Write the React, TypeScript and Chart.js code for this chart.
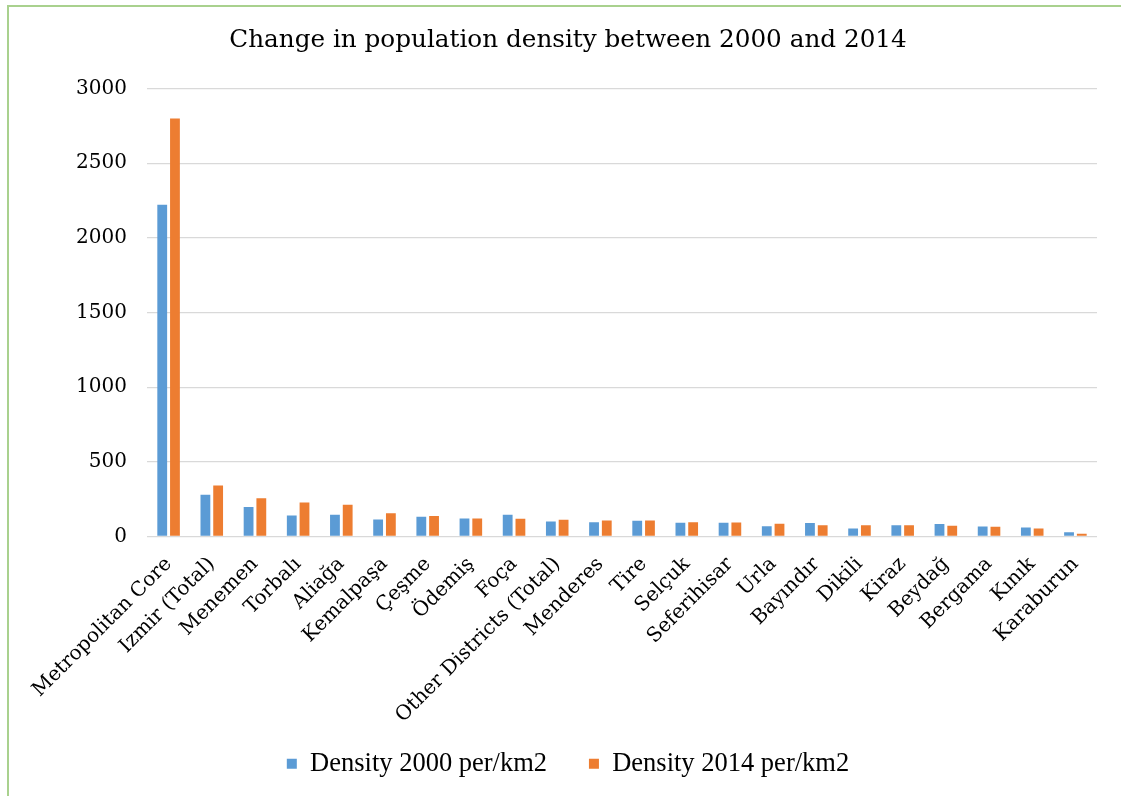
import React, { useEffect, useRef } from "react";
import { Chart, registerables } from "chart.js";

Chart.register(...registerables);

const categories = [
  "Metropolitan Core",
  "Izmir (Total)",
  "Menemen",
  "Torbalı",
  "Aliağa",
  "Kemalpaşa",
  "Çeşme",
  "Ödemiş",
  "Foça",
  "Other Districts (Total)",
  "Menderes",
  "Tire",
  "Selçuk",
  "Seferihisar",
  "Urla",
  "Bayındır",
  "Dikili",
  "Kiraz",
  "Beydağ",
  "Bergama",
  "Kınık",
  "Karaburun",
];

const density2000 = [2222, 280, 197, 141, 146, 114, 132, 121, 146, 101, 96, 105, 92, 92, 69, 90, 54, 76, 83, 67, 60, 29];
const density2014 = [2800, 341, 257, 228, 213, 155, 137, 121, 119, 112, 108, 108, 96, 94, 85, 76, 76, 76, 72, 65, 54, 18];

const seriesLabels = ["Density 2000 per/km2", "Density 2014 per/km2"];
const yTicks = [0, 500, 1000, 1500, 2000, 2500, 3000];
const titleText = "Change in population density between 2000 and 2014";

export default function App() {
  const canvasRef = useRef<HTMLCanvasElement | null>(null);

  useEffect(() => {
    if (!canvasRef.current) return;
    const chart = new Chart(canvasRef.current, {
      type: "bar",
      data: {
        labels: categories,
        datasets: [
          {
            label: seriesLabels[0],
            data: density2000,
            backgroundColor: "#5B9BD5",
            borderWidth: 0,
            categoryPercentage: 0.59,
            barPercentage: 0.77,
            yAxisID: "y",
          },
          {
            label: seriesLabels[1],
            data: density2014,
            backgroundColor: "#ED7D31",
            borderWidth: 0,
            categoryPercentage: 0.59,
            barPercentage: 0.77,
            yAxisID: "y",
          },
        ],
      },
      options: {
        animation: false,
        responsive: true,
        maintainAspectRatio: false,
        layout: { padding: 0 },
        plugins: {
          title: {
            display: true,
            text: titleText,
            color: "#000000",
            font: { family: "'DejaVu Serif', serif", size: 24.7, weight: "normal" },
            padding: { top: 19, bottom: 33 },
          },
          legend: {
            display: true,
            position: "bottom",
            labels: {
              boxWidth: 10,
              boxHeight: 10,
              padding: 22,
              color: "#000000",
              font: { family: "'Liberation Serif', serif", size: 26.5 },
              generateLabels: (c: any) => {
                const items = Chart.defaults.plugins.legend.labels.generateLabels(c);
                return items.map((it: any, i: number) => ({
                  ...it,
                  text: i === 0 ? it.text + "   " : it.text,
                  lineWidth: 0,
                }));
              },
            },
          },
          tooltip: { enabled: false },
        },
        scales: {
          x: {
            grid: { display: false, drawTicks: false },
            border: { display: false },
            ticks: {
              minRotation: 45,
              maxRotation: 45,
              autoSkip: false,
              padding: 16,
              color: "#000000",
              font: { family: "'DejaVu Serif', serif", size: 20 },
            },
            afterFit: (scale: any) => {
              scale.height = 192;
            },
          },
          y: {
            min: 0,
            max: 3000,
            grid: { color: "#D9D9D9", lineWidth: 1.3, drawTicks: false },
            border: { display: false },
            afterBuildTicks: (scale: any) => {
              scale.ticks = yTicks.map((v) => ({ value: v }));
            },
            ticks: {
              padding: 20,
              color: "#000000",
              font: { family: "'DejaVu Serif', serif", size: 20 },
              callback: (v: any) => String(v),
            },
            afterFit: (scale: any) => {
              scale.width = 138;
            },
          },
          yRight: {
            type: "linear",
            position: "right",
            display: true,
            grid: { display: false, drawTicks: false },
            border: { display: false },
            ticks: { display: false },
            afterFit: (scale: any) => {
              scale.width = 30;
            },
          },
        },
      },
    });
    return () => chart.destroy();
  }, []);

  return (
    <div
      style={{
        position: "absolute",
        left: 7,
        top: 5,
        width: 1114,
        height: 791,
        boxSizing: "border-box",
        borderLeft: "2px solid #A9D18E",
        borderTop: "2px solid #A9D18E",
        overflow: "hidden",
        background: "#ffffff",
      }}
    >
      <div style={{ width: 1118, height: 780, position: "relative" }}>
        <canvas ref={canvasRef} />
      </div>
    </div>
  );
}
